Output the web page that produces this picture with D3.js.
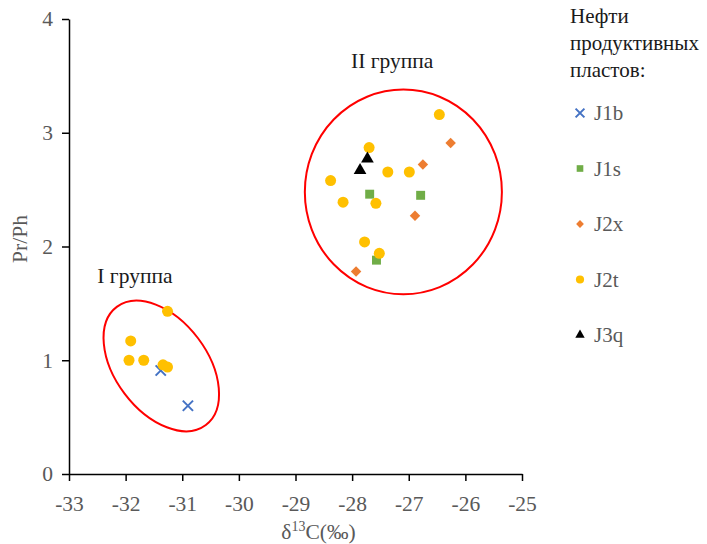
<!DOCTYPE html>
<html>
<head>
<meta charset="utf-8">
<script src="https://cdn.jsdelivr.net/npm/d3@7"></script>
<style>
  html, body { margin: 0; padding: 0; background: #fff; }
  svg, svg text { font-family: 'Liberation Serif', 'Times New Roman', 'DejaVu Serif', serif; }
</style>
</head>
<body>
<svg id="chart" width="707" height="544"></svg>
<script>
// Pr/Ph versus δ13C for oils of the productive layers
const xTicks = [-33, -32, -31, -30, -29, -28, -27, -26, -25];
const yTicks = [0, 1, 2, 3, 4];

const seriesNames = ["J1b", "J1s", "J2x", "J2t", "J3q"];

const J1b = [[-31.38, 0.91], [-30.90, 0.60]];
const J1s = [[-27.69, 2.46], [-26.79, 2.45], [-27.57, 1.88]];
const J2x = [[-26.26, 2.91], [-26.75, 2.72], [-26.89, 2.27], [-27.93, 1.78]];
const J2t = [
  [-31.26, 1.43], [-31.91, 1.17], [-31.94, 1.00], [-31.68, 1.00],
  [-31.34, 0.96], [-31.26, 0.94],
  [-26.46, 3.16], [-27.70, 2.87], [-27.37, 2.655], [-26.99, 2.655],
  [-28.38, 2.58], [-28.16, 2.39], [-27.58, 2.38], [-27.78, 2.04], [-27.52, 1.94]
];
const J3q = [[-27.73, 2.77], [-27.86, 2.67]];

const seriesData = { J1b, J1s, J2x, J2t, J3q };

const legendTitle = ["Нефти", "продуктивных", "пластов:"];
const groupLabels = [
  { text: "I группа", x: -32.5, y: 1.68 },
  { text: "II группа", x: -28.02, y: 3.57 }
];
// group outlines: centre in data units
const groupI = { cx: -31.37, cy: 0.95 };
const groupII = { cx: -27.095, cy: 2.48, rx: 1.74, ry: 0.90 };

const colors = { J1b: "#4472C4", J1s: "#70AD47", J2x: "#ED7D31", J2t: "#FFC000", J3q: "#000000" };

const svg = d3.select("#chart");
const margin = { left: 69, top: 19 };

const x = d3.scaleLinear().domain([-33, -25]).range([margin.left, 522]);
const y = d3.scaleLinear().domain([0, 4]).range([474, margin.top]);

const gray = "#595959";
const serif = "'Liberation Serif', 'Times New Roman', 'DejaVu Serif', serif";
const fs = 21.5;

// group outlines
svg.append("ellipse")
  .attr("cx", x(groupII.cx)).attr("cy", y(groupII.cy))
  .attr("rx", x(groupII.cx + groupII.rx) - x(groupII.cx))
  .attr("ry", y(groupII.cy - groupII.ry) - y(groupII.cy))
  .attr("fill", "none").attr("stroke", "#FF0000").attr("stroke-width", 2);

svg.append("ellipse")
  .attr("transform", `translate(${x(groupI.cx)},${y(groupI.cy)}) rotate(53)`)
  .attr("rx", 74).attr("ry", 46)
  .attr("fill", "none").attr("stroke", "#FF0000").attr("stroke-width", 2);

// axes
const xAxis = d3.axisBottom(x).tickValues(xTicks).tickSizeOuter(0).tickSizeInner(7).tickPadding(14.5)
  .tickFormat(d => String(d));
const yAxis = d3.axisLeft(y).tickValues(yTicks).tickSizeOuter(0).tickSizeInner(7).tickPadding(9)
  .tickFormat(d => String(d));

const gx = svg.append("g").attr("transform", `translate(0,${y(0)})`).call(xAxis);
const gy = svg.append("g").attr("transform", `translate(${x(-33)},0)`).call(yAxis);
[gx, gy].forEach(g => {
  g.attr("font-family", null).style("font-family", serif);
  g.select(".domain").attr("stroke", "#000").attr("stroke-width", 1.5);
  g.selectAll(".tick line").attr("stroke", "#000").attr("stroke-width", 1.5);
  g.selectAll(".tick text").attr("fill", gray).attr("font-size", fs).style("font-family", serif);
});

// axis titles
const xt = svg.append("text").attr("x", 318.5).attr("y", 539).attr("text-anchor", "middle")
  .attr("fill", gray).attr("font-size", fs);
xt.append("tspan").text("δ");
xt.append("tspan").attr("font-size", 14).attr("dy", -8).text("13");
xt.append("tspan").attr("dy", 8).text("C(‰)");

svg.append("text").attr("transform", `translate(27,239) rotate(-90)`)
  .attr("text-anchor", "middle").attr("fill", gray).attr("font-size", fs).text("Pr/Ph");

// group labels
svg.selectAll(".glabel").data(groupLabels).enter().append("text")
  .attr("x", d => x(d.x)).attr("y", d => y(d.y))
  .attr("fill", "#1a1a1a").attr("font-size", fs).text(d => d.text);

// marker shapes
const symbolFor = {
  J1b: d3.symbolX, J1s: d3.symbolSquare, J2x: d3.symbolSquare, J2t: d3.symbolCircle, J3q: d3.symbolTriangle
};
const sizeFor = { J1b: 70, J1s: 80, J2x: 55, J2t: 95, J3q: 70 };
const rotFor = { J2x: 45 };

function markerPath(name, scale) {
  return d3.symbol().type(symbolFor[name]).size(sizeFor[name] * scale)();
}
function styleMarker(sel, name) {
  sel.attr("fill", name === "J1b" ? "none" : colors[name])
    .attr("stroke", name === "J1b" ? colors[name] : "none")
    .attr("stroke-width", name === "J1b" ? 2 : 0);
}

seriesNames.forEach(name => {
  const g = svg.append("g");
  g.selectAll("path").data(seriesData[name]).enter().append("path")
    .attr("transform", d => `translate(${x(d[0])},${y(d[1])}) rotate(${rotFor[name] || 0})`)
    .attr("d", markerPath(name, 1))
    .call(styleMarker, name);
});

// legend
const lg = svg.append("g");
lg.selectAll("text.title").data(legendTitle).enter().append("text")
  .attr("x", 570).attr("y", (d, i) => 23 + i * 27)
  .attr("fill", "#1a1a1a").attr("font-size", 21).text(d => d);

seriesNames.forEach((name, i) => {
  const cy = 113 + i * 55.5;
  lg.append("path")
    .attr("transform", `translate(580,${cy}) rotate(${rotFor[name] || 0})`)
    .attr("d", markerPath(name, name === "J1b" ? 0.75 : 0.55))
    .call(styleMarker, name);
  lg.append("text").attr("x", 594).attr("y", cy + 7)
    .attr("fill", gray).attr("font-size", 21).text(name);
});
</script>
</body>
</html>
